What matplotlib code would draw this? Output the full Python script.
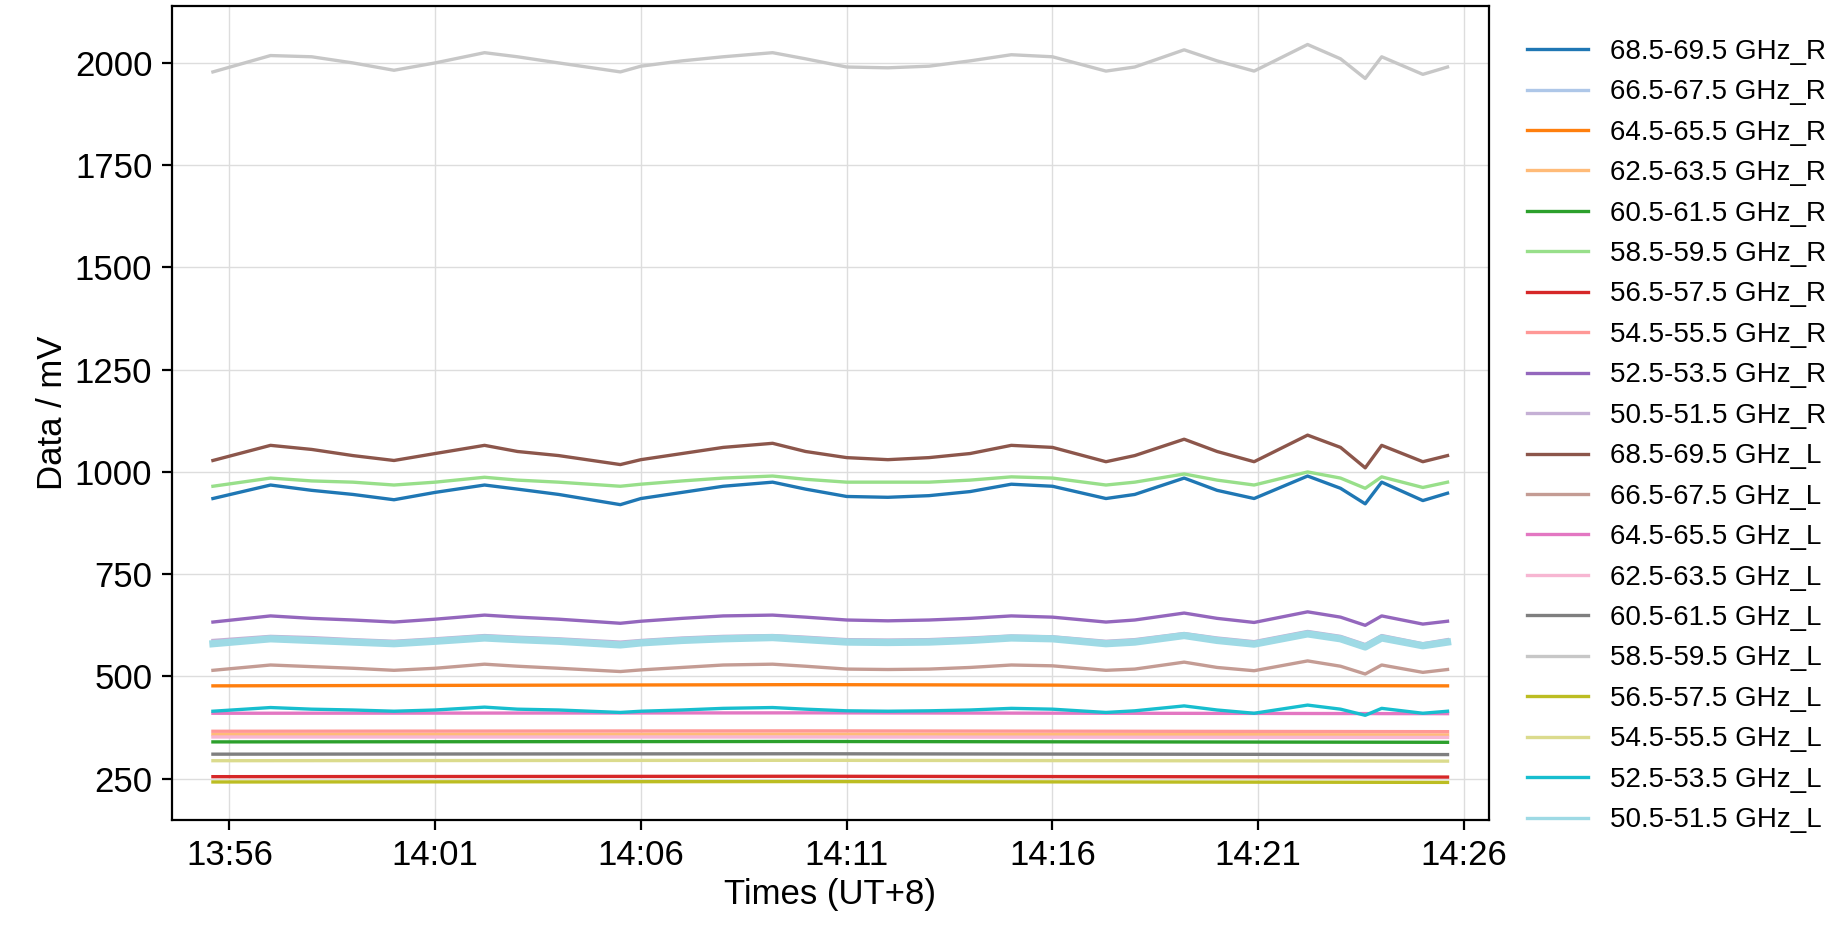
import matplotlib
matplotlib.use("Agg")
import matplotlib.pyplot as plt
import matplotlib.dates as mdates
import pandas as pd

plt.rcParams['font.family'] = ['Liberation Sans', 'DejaVu Sans']

times = ["13:55:36","13:57:00","13:58:00","13:59:00","14:00:00","14:01:00","14:02:12","14:03:00",
         "14:04:00","14:05:30","14:06:00","14:07:00","14:08:00","14:09:12","14:10:00","14:11:00",
         "14:12:00","14:13:00","14:14:00","14:15:00","14:16:00","14:17:18","14:18:00","14:19:12",
         "14:20:00","14:20:54","14:22:12","14:23:00","14:23:36","14:24:00","14:25:00","14:25:36"]

s_gray_L585 = [1978,2018,2015,2000,1982,2000,2025,2015,2000,1978,1992,2005,2015,2025,2010,1990,1988,1992,2005,2020,2015,1980,1990,2032,2005,1980,2045,2010,1962,2015,1972,1990]
s_brown_L685 = [1028,1065,1055,1040,1028,1045,1065,1050,1040,1018,1030,1045,1060,1070,1050,1035,1030,1035,1045,1065,1060,1025,1040,1080,1050,1025,1090,1060,1010,1065,1025,1040]
s_green_R585 = [965,985,978,975,968,975,987,980,975,965,970,978,985,990,982,975,975,975,980,988,985,968,975,995,980,968,1000,985,960,988,962,975]
s_blue_R685 = [935,968,955,945,932,950,968,958,945,920,935,950,965,975,958,940,938,942,952,970,965,935,945,985,955,935,990,960,922,975,930,948]
s_purple_R525 = [633,648,642,638,633,640,650,645,640,630,635,642,648,650,645,638,636,638,642,648,645,633,638,655,642,632,658,645,625,648,628,635]
s_lpurple_R505 = [588,598,595,590,586,592,600,596,592,584,588,594,598,600,596,590,589,590,594,599,597,586,590,605,594,585,610,598,578,600,580,590]
s_lblue_L505 = [580,592,588,584,580,586,594,590,586,577,582,588,592,595,590,584,583,584,588,594,592,580,584,600,588,579,604,592,572,594,575,584]
s_rosy_L665 = [515,528,524,520,515,520,530,525,520,512,516,522,528,530,525,518,517,518,522,528,526,515,518,535,522,514,538,525,506,528,510,517]
s_cyan_L525 = [415,424,420,418,415,418,425,420,418,412,415,418,422,424,420,416,415,416,418,422,420,412,416,428,418,410,430,420,405,422,410,415]

t_flat = ["13:55:36","14:10:00","14:25:36"]
s_orange_R645 = [477,480,477]
s_pink_L645 = [410,411,409]
s_salmon_R545 = [366,367,365]
s_lorange_R625 = [358,359,357]
s_lpink_L625 = [352,352,351]
s_green_R605 = [340,341,339]
s_gray_L605 = [310,311,309]
s_khaki_L545 = [294,295,293]
s_red_R565 = [255,256,254]
s_olive_L565 = [242,243,241]

labels = ["68.5-69.5 GHz_R","66.5-67.5 GHz_R","64.5-65.5 GHz_R","62.5-63.5 GHz_R","60.5-61.5 GHz_R",
          "58.5-59.5 GHz_R","56.5-57.5 GHz_R","54.5-55.5 GHz_R","52.5-53.5 GHz_R","50.5-51.5 GHz_R",
          "68.5-69.5 GHz_L","66.5-67.5 GHz_L","64.5-65.5 GHz_L","62.5-63.5 GHz_L","60.5-61.5 GHz_L",
          "58.5-59.5 GHz_L","56.5-57.5 GHz_L","54.5-55.5 GHz_L","52.5-53.5 GHz_L","50.5-51.5 GHz_L"]
series = [(times,s_blue_R685),(times,s_lblue_L505),(t_flat,s_orange_R645),(t_flat,s_lorange_R625),
          (t_flat,s_green_R605),(times,s_green_R585),(t_flat,s_red_R565),(t_flat,s_salmon_R545),
          (times,s_purple_R525),(times,s_lpurple_R505),(times,s_brown_L685),(times,s_rosy_L665),
          (t_flat,s_pink_L645),(t_flat,s_lpink_L625),(t_flat,s_gray_L605),(times,s_gray_L585),
          (t_flat,s_olive_L565),(t_flat,s_khaki_L545),(times,s_cyan_L525),(times,s_lblue_L505)]

colors = plt.get_cmap('tab20').colors
fig = plt.figure(figsize=(9.235,4.705), dpi=200)
ax = fig.add_axes([0.093,0.129,0.713,0.865])
for i,((t,v),lab) in enumerate(zip(series,labels)):
    x = pd.to_datetime(["2024-01-01 "+s for s in t])
    ax.plot(x, v, color=colors[i], lw=2.6 if i == 19 else 1.2, label=lab)

ax.set_xlim(pd.Timestamp("2024-01-01 13:54:36"), pd.Timestamp("2024-01-01 14:26:36"))
ax.set_ylim(150,2140)
ax.set_yticks([250,500,750,1000,1250,1500,1750,2000])
ax.set_xticks(pd.to_datetime(["2024-01-01 "+s for s in ["13:56","14:01","14:06","14:11","14:16","14:21","14:26"]]))
ax.xaxis.set_major_formatter(mdates.DateFormatter("%H:%M"))
ax.grid(True, color='#dddddd', lw=0.5)
ax.tick_params(labelsize=12.5)
ax.set_xlabel("Times (UT+8)", fontsize=12.5, labelpad=2)
ax.set_ylabel("Data / mV", fontsize=12.5, labelpad=2)
leg = ax.legend(loc='upper left', bbox_to_anchor=(1.01,0.99), frameon=False, fontsize=10,
          labelspacing=0.52, handlelength=2.2)
for h in leg.get_lines():
    h.set_linewidth(1.2)
fig.savefig("out.png", dpi=200)
